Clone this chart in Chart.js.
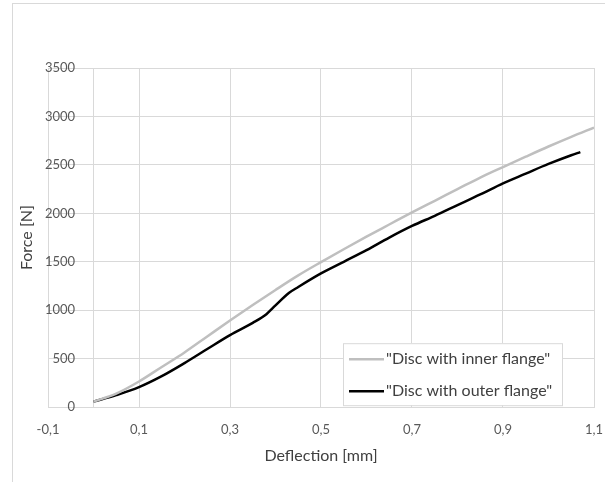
<!DOCTYPE html>
<html>
<head>
<meta charset="utf-8">
<script src="https://cdn.jsdelivr.net/npm/chart.js@4.4.0/dist/chart.umd.min.js"></script>
<style>
  html, body { margin: 0; padding: 0; background: #ffffff; }
  #frame { position: absolute; left: 12px; top: 3px; width: 700px; height: 600px; border: 1px solid #d9d9d9; box-sizing: border-box; }
  #wrap { position: absolute; left: 0; top: 0; width: 605px; height: 482px; }
</style>
</head>
<body>
<div id="frame"></div>
<div id="wrap"><canvas id="c" width="605" height="482"></canvas></div>
<script>
// ---- data ----
const innerLabel = '"Disc with inner flange"';
const outerLabel = '"Disc with outer flange"';
const xTitle = 'Deflection [mm]';
const yTitle = 'Force [N]';

const innerDeflection = [0, 0.05, 0.1, 0.15, 0.2, 0.25, 0.3, 0.35, 0.4, 0.45, 0.5, 0.55, 0.6, 0.65, 0.7, 0.75, 0.8, 0.85, 0.9, 0.95, 1.0, 1.05, 1.1];
const innerForce      = [58, 140, 265, 415, 565, 730, 895, 1055, 1210, 1360, 1497, 1630, 1760, 1885, 2010, 2130, 2250, 2370, 2478, 2585, 2690, 2790, 2885];

const outerDeflection = [0, 0.05, 0.1, 0.15, 0.2, 0.25, 0.3, 0.35, 0.38, 0.4, 0.43, 0.45, 0.5, 0.55, 0.6, 0.65, 0.7, 0.75, 0.8, 0.85, 0.9, 0.95, 1.0, 1.05, 1.07];
const outerForce      = [58, 125, 207, 320, 455, 600, 743, 870, 960, 1050, 1180, 1240, 1380, 1500, 1620, 1750, 1870, 1975, 2085, 2195, 2310, 2410, 2510, 2600, 2632];

const xTicks = [-0.1, 0.1, 0.3, 0.5, 0.7, 0.9, 1.1];
const yTicks = [0, 500, 1000, 1500, 2000, 2500, 3000, 3500];

const toPoints = (xs, ys) => xs.map((x, i) => ({ x: x, y: ys[i] }));

const FONT = 'Lato, "Open Sans", sans-serif';

const boxLegend = {
  id: 'boxLegend',
  afterDraw(chart) {
    const ctx = chart.ctx;
    const a = chart.chartArea;
    const w = 219, h = 62;
    const left = a.right - 32 - w;
    const top = a.bottom - 2 - h;
    ctx.save();
    ctx.fillStyle = '#ffffff';
    ctx.fillRect(left, top, w, h);
    ctx.strokeStyle = '#d9d9d9';
    ctx.lineWidth = 1;
    ctx.strokeRect(left + 0.5, top + 0.5, w, h);
    ctx.font = '16px ' + FONT;
    ctx.textBaseline = 'middle';
    chart.data.datasets.forEach((ds, i) => {
      const y = top + 16 + i * 32;
      ctx.strokeStyle = ds.borderColor;
      ctx.lineWidth = ds.borderWidth;
      ctx.beginPath();
      ctx.moveTo(left + 6, y);
      ctx.lineTo(left + 41, y);
      ctx.stroke();
      ctx.fillStyle = '#404040';
      ctx.fillText(ds.label, left + 43, y);
    });
    ctx.restore();
  }
};

new Chart(document.getElementById('c'), {
  type: 'scatter',
  data: {
    datasets: [
      { label: innerLabel, data: toPoints(innerDeflection, innerForce), borderColor: '#bfbfbf', borderWidth: 2.5, showLine: true, pointRadius: 0, cubicInterpolationMode: 'monotone' },
      { label: outerLabel, data: toPoints(outerDeflection, outerForce), borderColor: '#000000', borderWidth: 2.5, showLine: true, pointRadius: 0, cubicInterpolationMode: 'monotone' }
    ]
  },
  options: {
    responsive: false,
    animation: false,
    layout: { padding: { left: 0, right: 11, top: 68, bottom: 17 } },
    plugins: { legend: { display: false }, tooltip: { enabled: false } },
    scales: {
      x: {
        type: 'linear',
        min: -0.1, max: 1.1,
        afterBuildTicks: (s) => { s.ticks = xTicks.map(v => ({ value: v })); },
        afterFit: (s) => { s.paddingRight = 0; s.paddingLeft = 0; },
        ticks: { color: '#595959', font: { family: FONT, size: 13 }, padding: 15,
                 callback: (v) => v.toFixed(1).replace('.', ',') },
        grid: { color: '#d9d9d9', lineWidth: 1, drawTicks: false },
        border: { color: '#d9d9d9' },
        title: { display: true, text: xTitle, color: '#404040', font: { family: FONT, size: 16 }, padding: { top: -7, bottom: 0 } }
      },
      y: {
        type: 'linear',
        position: { x: 0 },
        min: 0, max: 3500,
        afterBuildTicks: (s) => { s.ticks = yTicks.map(v => ({ value: v })); },
        ticks: { display: false },
        grid: { color: '#d9d9d9', lineWidth: 1, drawTicks: false },
        border: { color: '#d9d9d9' }
      },
      yLabels: {
        type: 'linear',
        position: 'left',
        min: 0, max: 3500,
        afterBuildTicks: (s) => { s.ticks = yTicks.map(v => ({ value: v })); },
        afterFit: (s) => { s.width = 48; },
        ticks: { color: '#595959', font: { family: FONT, size: 13 }, mirror: true, crossAlign: 'far', padding: -3,
                 callback: (v) => String(v) },
        grid: { display: false, drawTicks: false },
        border: { display: false },
        title: { display: true, text: yTitle, color: '#404040', font: { family: FONT, size: 16 }, padding: { top: 17, bottom: 0 } }
      }
    }
  },
  plugins: [boxLegend]
});
</script>
</body>
</html>
